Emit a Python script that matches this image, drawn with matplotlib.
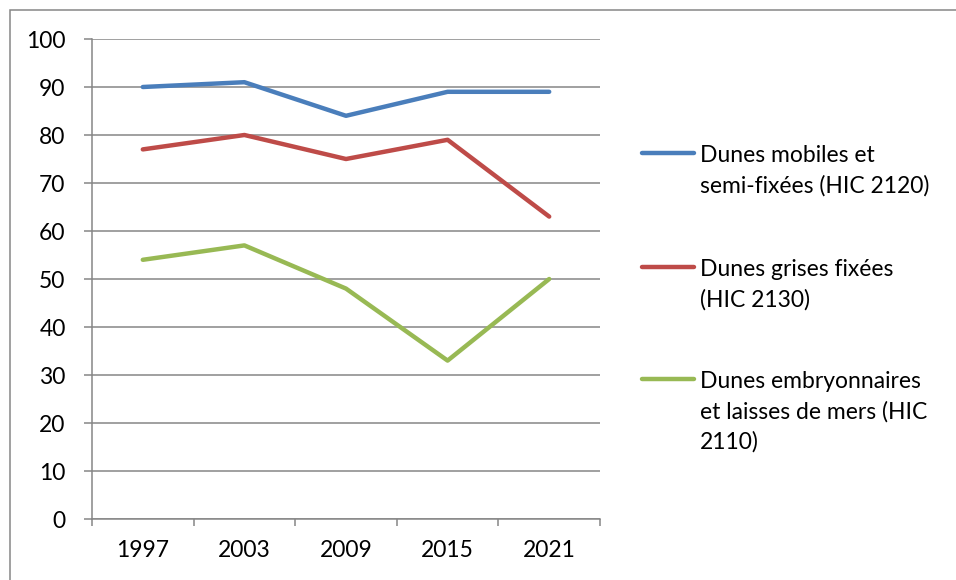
import matplotlib
matplotlib.use("Agg")
import matplotlib.pyplot as plt
import matplotlib.patches as patches
from matplotlib.lines import Line2D
import numpy as np

years = ["1997", "2003", "2009", "2015", "2021"]
mobiles = [90, 91, 84, 89, 89]
grises = [77, 80, 75, 79, 63]
embryonnaires = [54, 57, 48, 33, 50]

labels = [
    "Dunes mobiles et\nsemi-fixées (HIC 2120)",
    "Dunes grises fixées\n(HIC 2130)",
    "Dunes embryonnaires\net laisses de mers (HIC\n2110)",
]
colors = ["#4A7EBB", "#BE4B48", "#98B954"]
series = [mobiles, grises, embryonnaires]

plt.rcParams['font.family'] = ['Lato', 'DejaVu Sans']

fig = plt.figure(figsize=(9.56, 5.8), dpi=100, facecolor='white')
ax = fig.add_axes([92 / 956, 1 - 519 / 580, 508 / 956, 480 / 580])

x = np.arange(len(years)) + 0.5
for vals, col in zip(series, colors):
    ax.plot(x, vals, color=col, lw=3.2, solid_capstyle='round', solid_joinstyle='round')

ax.set_xlim(0, len(years))
ax.set_ylim(0, 100)
ax.set_yticks(np.arange(0, 101, 10))
ax.set_xticks(x)
ax.set_xticklabels(years)
ax.set_xticks(np.arange(0, len(years) + 1), minor=True)
ax.tick_params(axis='x', which='major', length=0, pad=15, labelsize=16.5)
ax.tick_params(axis='x', which='minor', length=5, width=1.1, color='#868686', direction='out')
ax.tick_params(axis='y', length=6, width=1.1, color='#868686', pad=13, labelsize=16.5)
ax.yaxis.grid(True, color='#868686', lw=1.1)
ax.set_axisbelow(True)
for s in ['top', 'right']:
    ax.spines[s].set_visible(False)
for s in ['left', 'bottom']:
    ax.spines[s].set_color('#868686')
    ax.spines[s].set_linewidth(1.1)

# legend drawn by hand (handle aligned with the first text line)
leg_y = [153, 267, 379]
for ly, lab, col in zip(leg_y, labels, colors):
    yf = 1 - ly / 580
    fig.add_artist(Line2D([642 / 956, 694 / 956], [yf, yf], color=col, lw=3.2,
                          solid_capstyle='round', transform=fig.transFigure))
    fig.text(700 / 956, 1 - (ly - 8) / 580, lab, fontsize=16.5, va='top', ha='left',
             linespacing=1.5)

# outer chart border
fig.add_artist(patches.Rectangle((10 / 956, -0.1), 1.2, 1 - 10 / 580 + 0.1,
                                 transform=fig.transFigure, fill=False,
                                 edgecolor='#868686', lw=1.1))

fig.savefig("out.png", dpi=100, facecolor='white')
